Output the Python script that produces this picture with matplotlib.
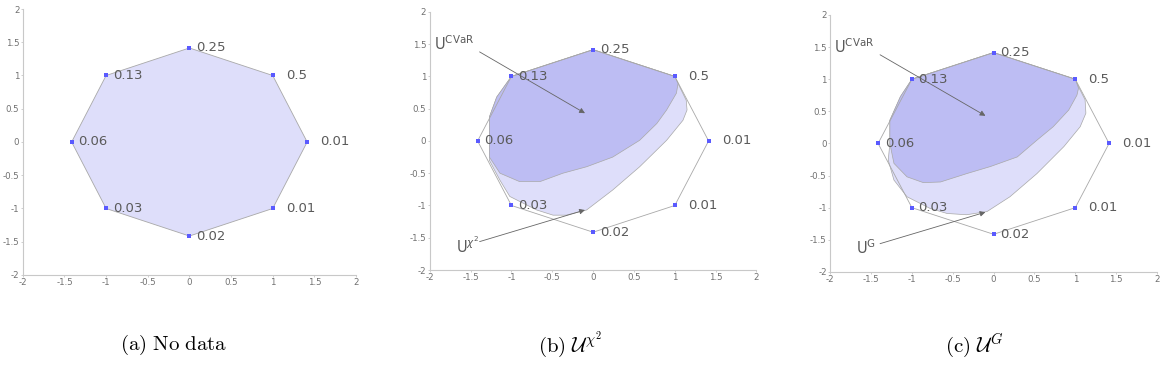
import matplotlib
matplotlib.use('Agg')
import matplotlib.pyplot as plt
import numpy as np

# Octagon vertices with their probabilities
vx = [0, 1, 1.414, 1, 0, -1, -1.414, -1]
vy = [1.414, 1, 0, -1, -1.414, -1, 0, 1]
vlabels = ['0.25', '0.5', '0.01', '0.01', '0.02', '0.03', '0.06', '0.13']

# U^CVaR region, panel (b)
cvar_b_x = [-1, 0, 1, 1.04, 1.02, 0.90, 0.78, 0.57, 0.24, -0.08, -0.37, -0.65, -0.90, -1.14, -1.27, -1.27, -1.27, -1.18]
cvar_b_y = [1, 1.414, 1, 0.89, 0.74, 0.48, 0.27, 0.01, -0.25, -0.40, -0.50, -0.63, -0.63, -0.50, -0.25, 0.0, 0.37, 0.68]
# U^chi2 region, panel (b)
chi_x = [-1, 0, 1, 1.04, 1.14, 1.15, 1.10, 0.90, 0.57, 0.24, -0.08, -0.33, -0.49, -0.69, -1.02, -1.14, -1.27, -1.27, -1.27, -1.18]
chi_y = [1, 1.414, 1, 0.89, 0.63, 0.48, 0.32, 0.01, -0.40, -0.76, -1.07, -1.15, -1.15, -1.07, -0.86, -0.61, -0.30, 0.0, 0.37, 0.68]

# U^CVaR region, panel (c)
cvar_c_x = [-1, 0, 1, 1.04, 1.02, 0.92, 0.73, 0.53, 0.29, -0.04, -0.33, -0.65, -0.86, -1.06, -1.22, -1.27, -1.27, -1.14]
cvar_c_y = [1, 1.414, 1, 0.86, 0.75, 0.52, 0.26, 0.05, -0.21, -0.36, -0.47, -0.60, -0.61, -0.52, -0.31, 0.0, 0.36, 0.73]
# U^G region, panel (c)
g_x = [-1, 0, 1, 1.04, 1.12, 1.13, 1.06, 0.86, 0.53, 0.20, -0.08, -0.33, -0.57, -0.78, -1.06, -1.22, -1.29, -1.27, -1.27, -1.14]
g_y = [1, 1.414, 1, 0.88, 0.68, 0.47, 0.26, -0.05, -0.47, -0.83, -1.06, -1.11, -1.09, -1.01, -0.83, -0.57, -0.26, 0.0, 0.36, 0.73]

captions = [r'$\mathrm{(a)\ No\ data}$', r'$\mathrm{(b)}\ \mathcal{U}^{\chi^2}$', r'$\mathrm{(c)}\ \mathcal{U}^{G}$']

light = '#dedefa'
dark = '#bdbdf3'
edge = '#a8a8a8'
txt = '#5a5a5a'

fig = plt.figure(figsize=(11.71, 3.83), dpi=100)
rects = [[0.0195, 0.282, 0.2845, 0.6945],
         [0.367, 0.295, 0.279, 0.674],
         [0.709, 0.290, 0.279, 0.671]]
axes = [fig.add_axes(r) for r in rects]


def style_axis(ax):
    ax.set_xlim(-2, 2)
    ax.set_ylim(-2, 2)
    ticks = np.arange(-2, 2.01, 0.5)
    ax.set_xticks(ticks)
    ax.set_yticks(ticks)
    ax.set_xticklabels(['%g' % t for t in ticks])
    ax.set_yticklabels(['%g' % t for t in ticks])
    for s in ['top', 'right']:
        ax.spines[s].set_visible(False)
    for s in ['left', 'bottom']:
        ax.spines[s].set_color('#c8c8c8')
        ax.spines[s].set_linewidth(0.8)
    ax.tick_params(direction='out', length=1.5, width=0.6, color='#c8c8c8',
                   labelsize=6.2, labelcolor='#707070', pad=1)


def draw_points(ax, fill):
    px = vx + [vx[0]]
    py = vy + [vy[0]]
    if fill:
        ax.fill(vx, vy, facecolor=light, edgecolor=edge, linewidth=0.6, zorder=1)
    else:
        ax.plot(px, py, color=edge, linewidth=0.6, zorder=3)
    ax.scatter(vx, vy, s=6, marker='s', color='#5a5aff', zorder=4, linewidths=0)
    for x, y, lab in zip(vx, vy, vlabels):
        dx = 0.16 if x > 0.5 else 0.08
        ax.text(x + dx, y, lab, fontsize=9.5, color=txt, va='center', ha='left', zorder=5)


# (a)
ax = axes[0]
style_axis(ax)
draw_points(ax, True)

# (b) and (c)
panels = [(axes[1], chi_x, chi_y, cvar_b_x, cvar_b_y, r'U$^{\chi^2}$'),
          (axes[2], g_x, g_y, cvar_c_x, cvar_c_y, r'U$^{\mathregular{G}}$')]
for ax, ox, oy, cx, cy, lab in panels:
    style_axis(ax)
    ax.fill(ox, oy, facecolor=light, edgecolor=edge, linewidth=0.5, zorder=1)
    ax.fill(cx, cy, facecolor=dark, edgecolor=edge, linewidth=0.5, zorder=2)
    draw_points(ax, False)
    ap = dict(arrowstyle='-|>', color='#666666', lw=0.6, mutation_scale=8, shrinkA=0, shrinkB=0)
    ax.annotate('', xy=(-0.10, 0.43), xytext=(-1.39, 1.38), arrowprops=ap, zorder=6)
    ax.annotate('', xy=(-0.10, -1.07), xytext=(-1.39, -1.56), arrowprops=ap, zorder=6)
    ax.text(-1.95, 1.50, r'U$^{\mathregular{CVaR}}$', fontsize=10.5, color=txt, va='center', ha='left',
            math_fontfamily='dejavusans')
    ax.text(-1.68, -1.62, lab, fontsize=10.5, color=txt, va='center', ha='left',
            math_fontfamily='dejavusans')

for xc, cap in zip([0.148, 0.487, 0.832], captions):
    fig.text(xc, 0.10, cap, fontsize=15, ha='center', va='center', math_fontfamily='cm')

fig.savefig('out.png', dpi=100)
